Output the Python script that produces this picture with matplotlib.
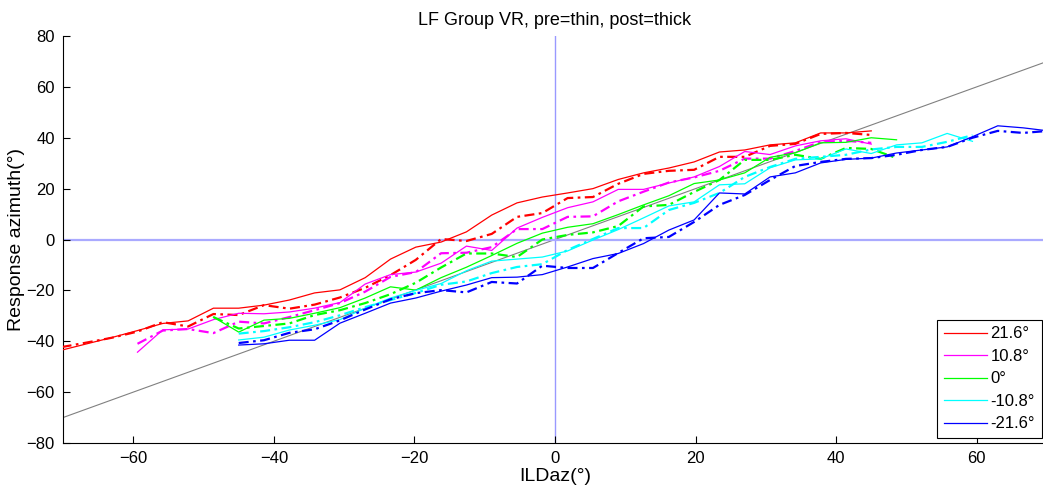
import matplotlib
matplotlib.use("Agg")
import matplotlib.pyplot as plt

# ── DATA ──
X_GRID = [-70.2, -66.6, -63.0, -59.4, -55.8, -52.2, -48.6, -45.0, -41.4, -37.8,
          -34.2, -30.6, -27.0, -23.4, -19.8, -16.2, -12.6, -9.0, -5.4, -1.8,
          1.8, 5.4, 9.0, 12.6, 16.2, 19.8, 23.4, 27.0, 30.6, 34.2,
          37.8, 41.4, 45.0, 48.6, 52.2, 55.8, 59.4, 63.0, 66.6, 70.2]

LABELS = ["21.6°", "10.8°", "0°", "-10.8°", "-21.6°"]
COLORS = ["#ff0000", "#ff00ff", "#00ff00", "#00ffff", "#0000ff"]
START_IDX = [0, 3, 6, 7, 7]

PRE = [
    [-43.5, -41, -38.5, -35.8, -33, -32, -27, -27, -25.8, -23.8, -21, -19.8, -15, -7.7,
     -3, -1, 3, 9.6, 14.4, 16.7, 18.3, 20, 23.6, 26.2, 28.1, 30.5, 34.4, 35.2, 37.2,
     38, 41.9, 41.9, 42.7],
    [-44.3, -35.5, -35.2, -31.5, -29, -29.2, -28.5, -27, -24.8, -17.5, -13.8, -12.8,
     -9.3, -2.6, -4.3, 4.5, 8.7, 12.5, 14.8, 19.7, 19.7, 22.2, 24.6, 28.7, 34.6, 33.4,
     36.8, 38.8, 39.6, 37.5],
    [-30.5, -36.4, -31.7, -31, -29, -26.8, -23, -18.6, -19.9, -15, -10.9, -6.3, -1.5,
     2.5, 4.8, 6.2, 9.8, 13.6, 17.2, 22, 23.4, 26.2, 32.3, 34.1, 38, 38.2, 40, 39.2],
    [-39.5, -38.4, -35.6, -33.7, -31.5, -27, -23, -20, -17.3, -12.3, -8.5, -7.7, -6.9,
     -4.5, -0.2, 3.9, 8.5, 13.2, 14.8, 21.5, 21.9, 28.2, 31.3, 31.7, 35.6, 33.8, 37.2,
     38, 41.7, 38.6],
    [-41.5, -41, -39.6, -39.6, -32.9, -29, -25, -23, -20.3, -17.9, -15, -14.8, -13.8,
     -10.8, -7.5, -5.5, -1.6, 3.7, 7.7, 18.3, 17.9, 24.6, 26.2, 30.1, 31.5, 32, 34,
     35.2, 36.4, 40.4, 44.7, 43.9, 42.7],
]

POST = [
    [-42.3, -40.5, -38.6, -36.2, -32.5, -34.2, -29.3, -29.7, -25.8, -27.2, -25.6, -22.8,
     -19, -14, -8, 0.2, -0.6, 2.2, 8.9, 10.4, 16.3, 16.7, 21.9, 25.8, 27, 27.4, 32.5,
     32.5, 36.8, 37.6, 41.5, 41.9, 41.1],
    [-41, -35.8, -35.2, -36.8, -32.3, -33, -30.5, -27.8, -25, -20.5, -14.7, -12.8, -5.4,
     -5.2, -3, 4.1, 4.1, 8.9, 9.1, 15, 18.8, 22.4, 24.4, 27, 31.8, 31.8, 34.8, 38.4,
     38.8, 38],
    [-30.5, -35, -34, -33, -29.7, -27.8, -25, -21.5, -17, -11, -5.5, -5.5, -6.9, 0, 1.8,
     2.8, 5.3, 13, 13.6, 18.7, 23.4, 31.3, 31.3, 33.3, 31.7, 36, 35.6, 32],
    [-37, -36, -34.5, -32.5, -29.8, -26.6, -23.8, -21, -17.8, -16.5, -13.2, -10.8, -9.7,
     -4.1, 0.2, 4.5, 4.5, 11.6, 14.4, 18.3, 24.6, 28.5, 31.7, 32.5, 33.3, 35.4, 36.4,
     36.4, 38.4, 41],
    [-40.7, -39.6, -36.7, -35.3, -31.8, -27.5, -23.5, -21.1, -19.9, -20.8, -16.7, -17.3,
     -10.3, -11.2, -11.2, -5.3, 0.5, 1, 6.9, 13.6, 17.5, 23.4, 28.9, 30.5, 31.7, 32,
     33.3, 35.2, 36.4, 40, 42.7, 41.9, 42.7],
]

XLIM = (-70, 70)
YLIM = (-80, 80)

plt.rcParams["font.family"] = ["Liberation Sans", "DejaVu Sans"]

fig = plt.figure(figsize=(10.43, 4.86), dpi=100)
ax = fig.add_axes([0.0604, 0.0885, 0.9434, 0.8374])

# reference lines
ax.plot(XLIM, XLIM, color="#808080", lw=0.8, zorder=1)
ax.axvline(0, color="#9999ff", lw=1.0, zorder=1)
ax.axhline(0, color="#aaaaff", lw=1.6, zorder=1)

for label, color, i0, pre, post in zip(LABELS, COLORS, START_IDX, PRE, POST):
    xs = X_GRID[i0:i0 + len(pre)]
    ax.plot(xs, pre, color=color, lw=0.9, label=label, zorder=3)
    xs = X_GRID[i0:i0 + len(post)]
    ax.plot(xs, post, color=color, lw=1.6, ls=(0, (4.5, 2, 1.2, 2)), zorder=3)

ax.set_xlim(*XLIM)
ax.set_ylim(*YLIM)
ax.set_xticks(range(-60, 61, 20))
ax.set_yticks(range(-80, 81, 20))
ax.tick_params(direction="in", length=5, labelsize=12, pad=6)
ax.spines["top"].set_visible(False)
ax.spines["right"].set_visible(False)

ax.set_title("LF Group VR, pre=thin, post=thick", fontsize=13, pad=8)
ax.set_xlabel("ILDaz(°)", fontsize=14, labelpad=1)
ax.set_ylabel("Response azimuth(°)", fontsize=14, labelpad=1)

leg = ax.legend(loc="lower right", bbox_to_anchor=(0.9945, 0.012), borderaxespad=0,
                fontsize=12, handlelength=2.6, handletextpad=0.2, borderpad=0.4,
                labelspacing=0.45, fancybox=False, framealpha=1)
leg.get_frame().set_edgecolor("black")
leg.get_frame().set_linewidth(0.8)

plt.savefig("out.png", dpi=100)
